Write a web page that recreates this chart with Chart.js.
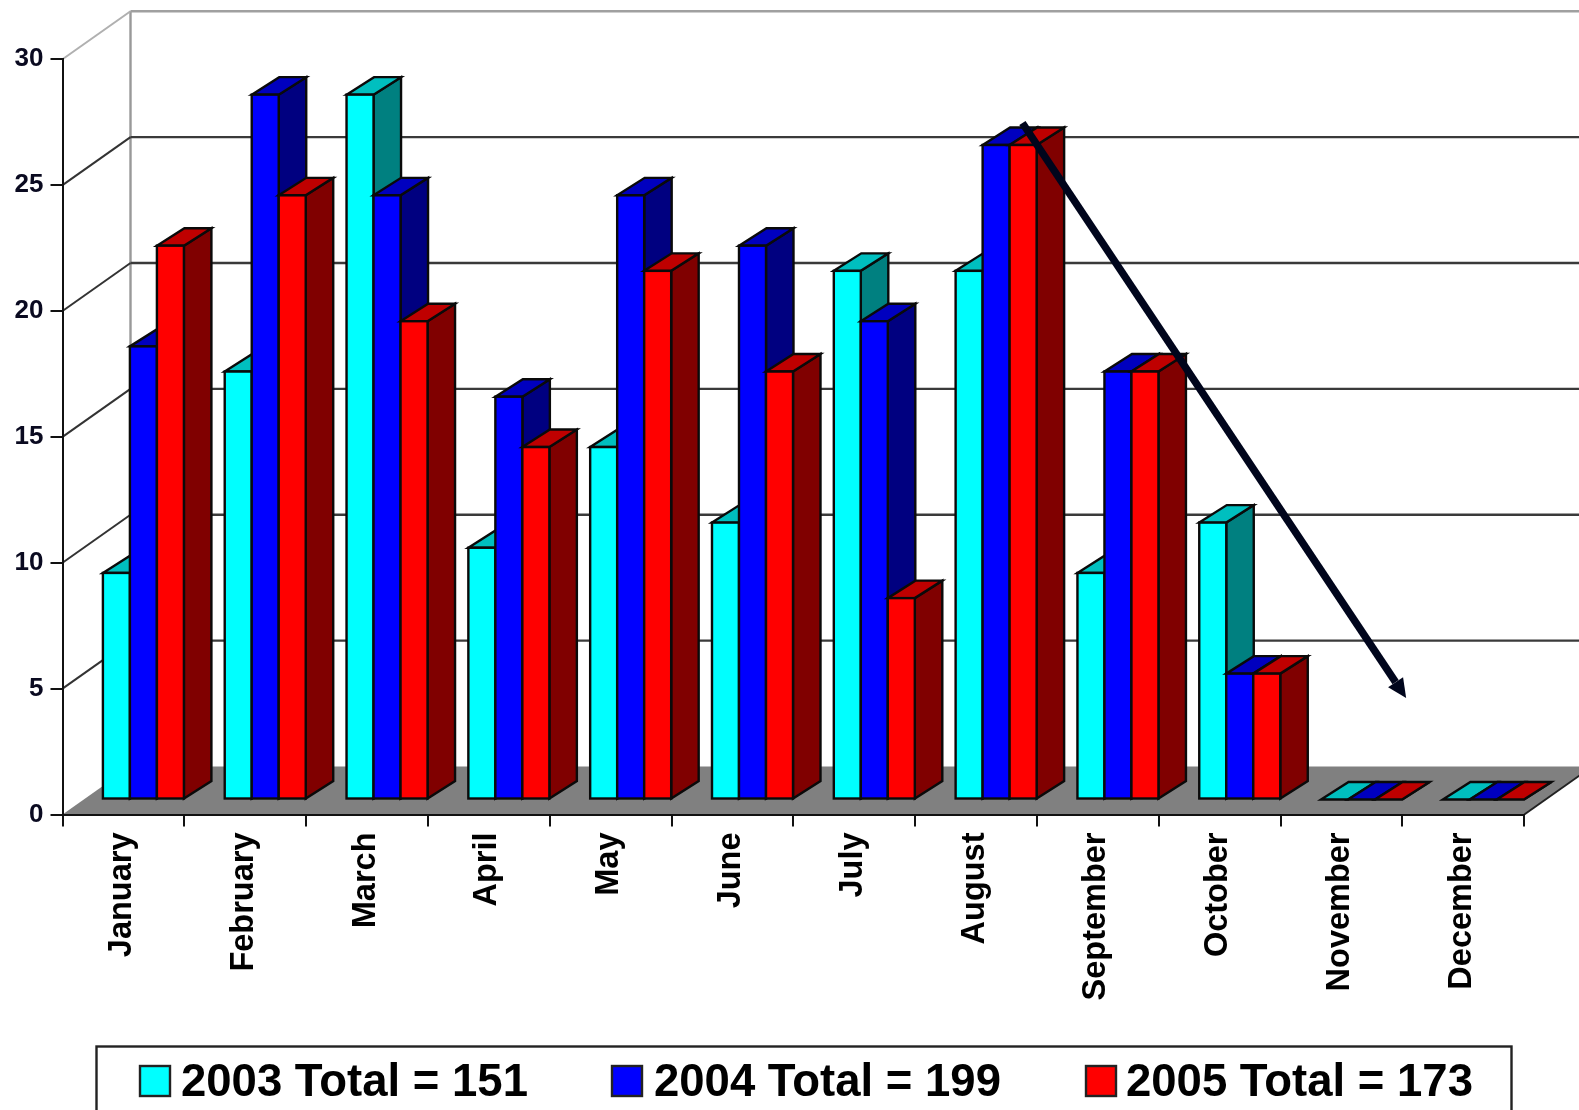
<!DOCTYPE html>
<html>
<head>
<meta charset="utf-8">
<title>Monthly totals 2003-2005</title>
<script src="https://cdn.jsdelivr.net/npm/chart.js@4"></script>
<style>
  html,body{margin:0;padding:0;background:#fff;overflow:hidden}
  canvas{display:block}
</style>
</head>
<body>
<canvas id="chart" width="1579" height="1110"></canvas>
<script>
/* ---------- data ---------- */
const months = ['January','February','March','April','May','June','July','August','September','October','November','December'];
const years = ['2003','2004','2005'];
const v2003 = [9,17,28,10,14,11,21,21,9,11,0,0];
const v2004 = [18,28,24,16,24,22,19,26,17,5,0,0];
const v2005 = [22,24,19,14,21,17,8,26,17,5,0,0];
const yTicks = [0,5,10,15,20,25,30];

// trend arrow, in axis units: [month index, value]
const arrowFrom = [7.38,27.47];
const arrowTo = [10.53,4.63];

/* ---------- colours: front, top, side ---------- */
const cyan = ['#00ffff','#00bfbf','#008080'];
const blue = ['#0000ff','#0000bf','#000080'];
const red  = ['#ff0000','#bf0000','#800000'];
const ink = '#0a0a0a';

/* ---------- projection ---------- */
const wallDX=68, wallDY=48;        // floor depth
const barShiftX=20, barShiftY=15;  // bars stand a little way back from the front edge
const barDX=27.5, barDY=17.5;      // bar depth

function poly(ctx,pts,fill){
  ctx.beginPath();
  pts.forEach((p,i)=> i?ctx.lineTo(p[0],p[1]):ctx.moveTo(p[0],p[1]));
  ctx.closePath();
  ctx.fillStyle=fill; ctx.fill();
  ctx.strokeStyle=ink; ctx.lineWidth=2.4; ctx.lineJoin='miter'; ctx.stroke();
}

/* walls and floor go under the axes */
const room = {
  id:'room',
  beforeDraw(c){
    const {ctx,chartArea:a,scales:{y},width}=c;
    const x0=a.left, x1=a.right, y0=y.getPixelForValue(0);
    ctx.save();
    // floor
    ctx.beginPath();
    ctx.moveTo(x0,y0); ctx.lineTo(x1,y0); ctx.lineTo(x1+wallDX,y0-wallDY); ctx.lineTo(x0+wallDX,y0-wallDY);
    ctx.closePath();
    ctx.fillStyle='#808080'; ctx.fill();
    ctx.strokeStyle='#222'; ctx.lineWidth=2;
    ctx.beginPath(); ctx.moveTo(x1,y0); ctx.lineTo(x1+wallDX,y0-wallDY); ctx.stroke();
    // back wall edge
    ctx.strokeStyle='#999'; ctx.lineWidth=2.4;
    ctx.beginPath(); ctx.moveTo(x0+wallDX,y.getPixelForValue(30)-wallDY); ctx.lineTo(x0+wallDX,y0-wallDY); ctx.stroke();
    // grid lines, side wall then back wall
    yTicks.slice(1).forEach(v=>{
      const py=y.getPixelForValue(v), top=v===30;
      ctx.strokeStyle=top?'#b0b0b0':'#333'; ctx.lineWidth=2;
      ctx.beginPath(); ctx.moveTo(x0,py); ctx.lineTo(x0+wallDX,py-wallDY); ctx.stroke();
      ctx.strokeStyle=top?'#a0a0a0':'#3a3a3a'; ctx.lineWidth=2.4;
      ctx.beginPath(); ctx.moveTo(x0+wallDX,py-wallDY); ctx.lineTo(width,py-wallDY); ctx.stroke();
    });
    ctx.restore();
  }
};

/* bars go left to right within a month, each with its depth faces,
   so the nearer series hides the side of the one before it */
const bars3d = {
  id:'bars3d',
  beforeDatasetsDraw(c){
    const ctx=c.ctx;
    ctx.save();
    ctx.translate(barShiftX,-barShiftY);
    c.getSortedVisibleDatasetMetas().forEach(meta=>{
      const faces=c.data.datasets[meta.index].faces;
      const boxes=meta.data.map(b=>b.getProps(['x','y','base','width'],true));
      boxes.forEach(({x,y,base,width})=>{
        const l=x-width/2, r=x+width/2;
        poly(ctx,[[r,y],[r+barDX,y-barDY],[r+barDX,base-barDY],[r,base]],faces[2]);
        poly(ctx,[[l,y],[l+barDX,y-barDY],[r+barDX,y-barDY],[r,y]],faces[1]);
      });
      meta.controller.draw();
      ctx.strokeStyle=ink; ctx.lineWidth=2.4;
      boxes.forEach(({x,y,base,width})=>{
        if(base-y>0) ctx.strokeRect(x-width/2,y,width,base-y);
      });
    });
    ctx.restore();
  },
  beforeDatasetDraw(){ return false; }
};

/* trend arrow on top of everything */
const trendArrow = {
  id:'trendArrow',
  afterDraw(c){
    const {ctx,scales:{x,y}}=c;
    const ax=x.getPixelForValue(arrowFrom[0]), ay=y.getPixelForValue(arrowFrom[1]);
    const bx=x.getPixelForValue(arrowTo[0]), by=y.getPixelForValue(arrowTo[1]);
    const ang=Math.atan2(by-ay,bx-ax), len=19, wing=9;
    ctx.save();
    ctx.strokeStyle=ctx.fillStyle='#00051c';
    ctx.lineWidth=7.5;
    ctx.beginPath(); ctx.moveTo(ax,ay);
    ctx.lineTo(bx-Math.cos(ang)*len,by-Math.sin(ang)*len); ctx.stroke();
    ctx.translate(bx,by); ctx.rotate(ang);
    ctx.beginPath(); ctx.moveTo(0,0); ctx.lineTo(-len,-wing); ctx.lineTo(-len,wing); ctx.closePath(); ctx.fill();
    ctx.restore();
  }
};

/* legend strip along the bottom, running off the page */
const legendBox = {
  id:'legendBox',
  afterDraw(c){
    const ctx=c.ctx, slots=[[140,181],[612,654],[1086,1126]];
    ctx.save();
    ctx.strokeStyle='#222'; ctx.lineWidth=2.4;
    ctx.strokeRect(96.5,1046.5,1415,80);
    ctx.font='bold 45.5px "Liberation Sans"'; ctx.textBaseline='alphabetic'; ctx.textAlign='left';
    c.data.datasets.forEach((d,i)=>{
      ctx.fillStyle=d.backgroundColor;
      ctx.fillRect(slots[i][0],1066,30,30);
      ctx.strokeRect(slots[i][0],1066,30,30);
      ctx.fillStyle='#000';
      ctx.fillText(d.label,slots[i][1],1096);
    });
    ctx.restore();
  }
};

/* ---------- chart ---------- */
function series(i,vals,faces){
  const total=vals.reduce((s,v)=>s+v,0);
  return {
    label:`${years[i]} Total = ${total}`, data:vals, faces,
    backgroundColor:faces[0], borderWidth:0, inflateAmount:0,
    categoryPercentage:0.665, barPercentage:1
  };
}

Chart.defaults.font.family='"Liberation Sans"';

new Chart(document.getElementById('chart').getContext('2d'),{
  type:'bar',
  data:{ labels:months, datasets:[series(0,v2003,cyan),series(1,v2004,blue),series(2,v2005,red)] },
  options:{
    responsive:false, animation:false,
    layout:{ padding:{left:0,top:59.3,right:54.7,bottom:0} },
    plugins:{ legend:{display:false}, tooltip:{enabled:false} },
    scales:{
      x:{
        afterFit(s){ s.height=295.5; s.paddingLeft=s.paddingRight=0; },
        grid:{drawOnChartArea:false,color:'#111',lineWidth:2,tickLength:12},
        border:{color:'#111',width:2},
        ticks:{
          color:'#000', autoSkip:false, minRotation:90, maxRotation:90, padding:6,
          labelOffset:-1.5, font:{size:32.5,weight:'bold'}
        }
      },
      y:{
        min:0,max:30,
        afterFit(s){ s.width=62.5; s.paddingTop=s.paddingBottom=0; },
        grid:{drawOnChartArea:false,color:'#111',lineWidth:2,tickLength:12},
        border:{color:'#111',width:2},
        ticks:{ color:'#0a0a20', stepSize:5, padding:7, font:{size:26,weight:'bold'} }
      }
    }
  },
  plugins:[room,bars3d,trendArrow,legendBox]
});
</script>
</body>
</html>
